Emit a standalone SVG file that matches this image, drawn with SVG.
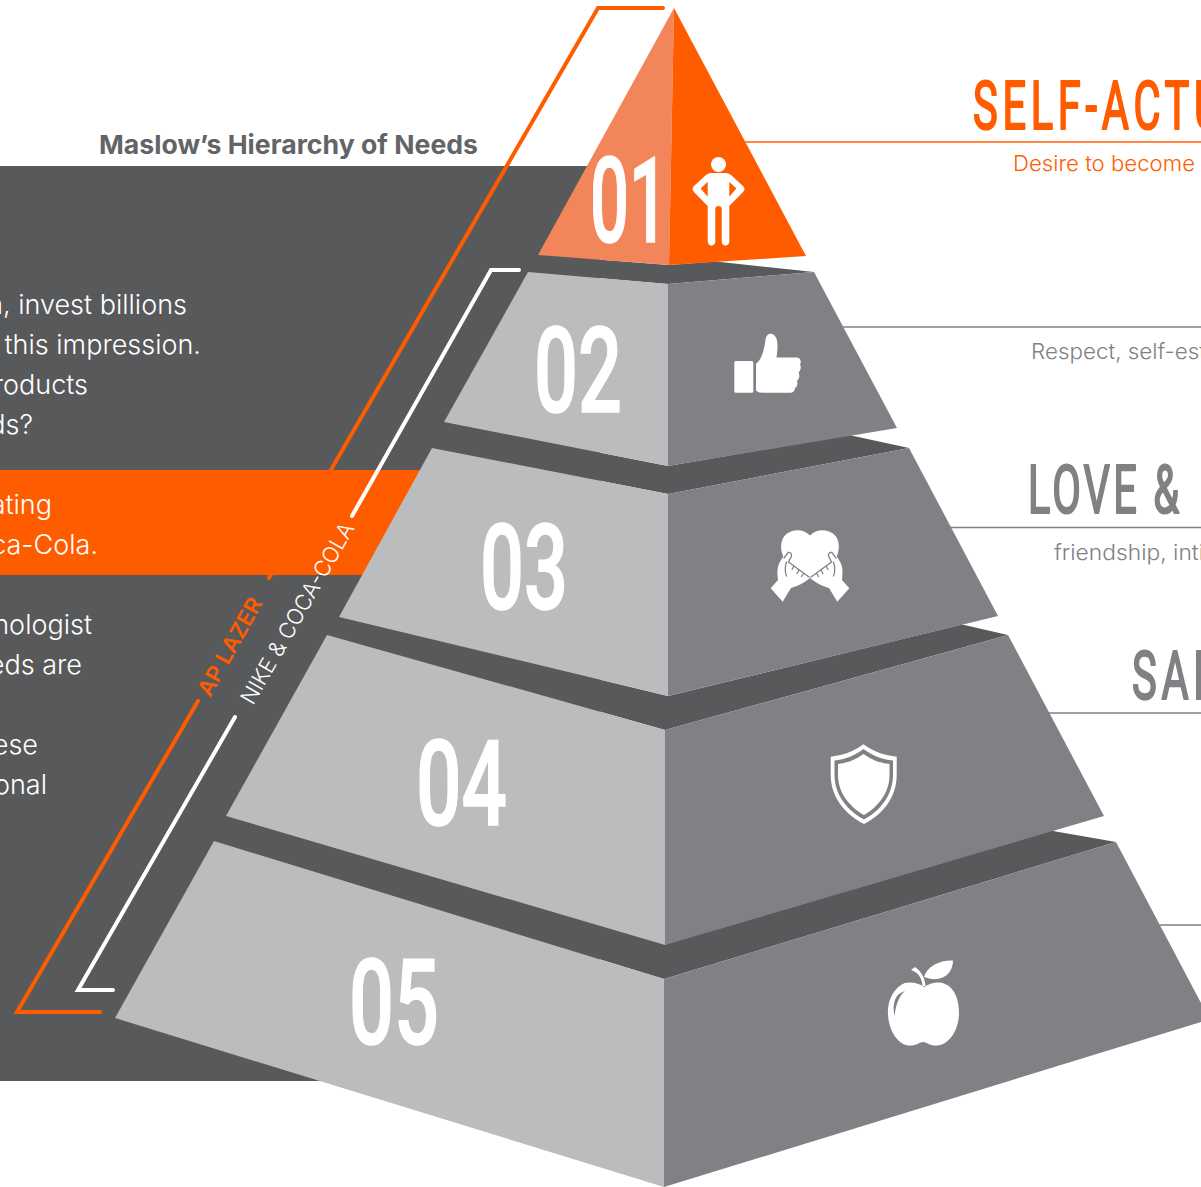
<svg xmlns="http://www.w3.org/2000/svg" width="1201" height="1187" viewBox="0 0 1201 1187">
<style>
.lt{fill:#bbbcbe}.md{fill:#808184}.dk{fill:#58595b}.or{fill:#ff5c00}.wh{fill:#fff}
.num{font-family:"Roboto","Liberation Sans",sans-serif;font-weight:500;font-size:119px;fill:#fff;stroke:#fff;stroke-width:1.500}
.body{font-family:"Inter","Liberation Sans",sans-serif;font-weight:300;font-size:27px;fill:#fff;text-anchor:end}
.sub{font-family:"Inter","Liberation Sans",sans-serif;font-weight:300;font-size:22px}
.hd{font-family:"Roboto","Liberation Sans",sans-serif;font-weight:400;font-size:66px;stroke-width:2.200;stroke-linejoin:round}
.rule{fill:none;stroke-width:1.5}
.ln{fill:none;stroke:#808184;stroke-width:1.300;stroke-linecap:round}
</style>
<defs>
<g id="hand">
<path class="wh" d="M770.700,588.300L778,580C777,572 777,566 781,560L786,552Q790,550 792,553L790,562L810,578C803,584 797,586 791,588L782.700,601.700Z"/>
<path class="ln" d="M784,558L788,552.500Q792,552 791.500,556L788.500,562L809,577M786.500,562Q784,570 786.500,576M794,566l-2,3.500M799,570l-2,3.500M803.500,573.500l-2,3"/>
</g>
</defs>
<rect id="panel" class="dk" x="0" y="166" width="600" height="915"/>
<polygon id="strip" class="or" points="0,470 430,470 370,575 0,575"/>
<text id="title" x="99" y="154" font-family="Inter, Liberation Sans, sans-serif" font-weight="700" font-size="26" fill="#626467" textLength="379" lengthAdjust="spacingAndGlyphs">Maslow’s Hierarchy of Needs</text>
<g id="panel-text">
<text class="body" x="187" y="314">a, invest billions</text>
<text class="body" x="201" y="354">this impression.</text>
<text class="body" x="88" y="394">roducts</text>
<text class="body" x="33" y="434">ds?</text>
<text class="body" x="52" y="514">ating</text>
<text class="body" x="98" y="554">ca-Cola.</text>
<text class="body" x="92" y="634">nologist</text>
<text class="body" x="82" y="674">eds are</text>
<text class="body" x="38" y="754">ese</text>
<text class="body" x="47" y="794">onal</text>
</g>
<g id="connectors" fill="none" stroke-linecap="round" stroke-linejoin="miter">
<path d="M100,1012H17L198,701M269,578L332,468L598,8H663" stroke="#ff5c00" stroke-width="4"/>
<path d="M113,990H78L235,717M352,516L491,270H519" stroke="#fff" stroke-width="4"/>
<path class="rule" stroke="#ff5c00" d="M746,142H1201"/>
<path class="rule" stroke="#808184" d="M843,327H1201M950,527.500H1201M1047,713H1201M1160,925H1201"/>
</g>
<text id="label-ap" transform="translate(210,698) rotate(-60.800)" font-family="Inter, Liberation Sans, sans-serif" font-weight="600" font-size="22" class="or" textLength="109" lengthAdjust="spacingAndGlyphs">AP LAZER</text>
<text id="label-nike" transform="translate(253,706) rotate(-60.200)" font-family="Inter, Liberation Sans, sans-serif" font-weight="300" font-size="22" class="wh" textLength="205" lengthAdjust="spacingAndGlyphs">NIKE &amp; COCA-COLA</text>
<g id="tier-5">
<polygon class="dk" points="226,816 214,841 664,979 1116,842 1053,831"/>
<polygon class="lt" points="214,841 664,979 664,1187 115,1018"/>
<polygon class="md" points="664,979 1116,842 1201,1003 1201,1022 664,1187"/>
<text class="num" x="349" y="1044" textLength="90" lengthAdjust="spacingAndGlyphs">05</text>
<g id="icon-apple" class="wh">
<path d="M924,987C918,982 906,981 901,985C892,991 887,1003 888,1015C889,1031 898,1045 909,1045.500C916,1046 920,1042 923,1042C926,1042 930,1046 937,1045.500C949,1045 959,1030 959,1013C959,1000 955,988 945,984C938,981 930,983 924,987Z"/>
<path d="M922.500,986C922,978 918,972 911,970L915,967C921,971 925,978 925.500,986Z"/>
<path d="M924,977C927,966 940,960 953,960.500C953,970 947,978 937,979C932,979.500 928,978.500 924,977Z"/>
<path d="M894.500,1016C892,1003 895,994 905,991C899,996 896,1004 894.500,1016Z" fill="#808184"/>
</g>
</g>
<g id="tier-4">
<polygon class="dk" points="339,617 327,635 665,730 1008,635 962,624.500 668,696"/>
<polygon class="lt" points="327,635 665,730 665,945 226,816"/>
<polygon class="md" points="665,730 1008,635 1104,816 665,945"/>
<text class="num" x="416" y="825" textLength="91" lengthAdjust="spacingAndGlyphs">04</text>
<g id="icon-shield">
<path class="wh" d="M863.500,744.300C853,752 842,755.500 830.700,756.700V775C830.700,798 846,815 864,824C882,815 896.700,798 896.700,775V756.700C885,755.500 874,752 863.500,744.300Z"/>
<path class="md" d="M863.500,749C854,756 845,759.500 834.500,760.500V775C834.500,795 848,811 864,819.500C880,811 893,795 893,775V760.500C882,759.500 873,756 863.500,749Z"/>
<path class="wh" d="M863.500,754C855,760 847,763 838,764V775C838,793 850,807 864,815C878,807 889.500,793 889.500,775V764C880,763 872,760 863.500,754Z"/>
</g>
</g>
<g id="tier-3">
<polygon class="dk" points="444,422 432,448 668,494 909,448 849,435 668,466"/>
<polygon class="lt" points="432,448 668,494 668,696 339,617"/>
<polygon class="md" points="668,494 909,448 998,616 668,696"/>
<text class="num" x="480" y="609" textLength="88" lengthAdjust="spacingAndGlyphs">03</text>
<g id="icon-hands">
<path class="wh" d="M810,535.500C804,529 794,528.500 787,533.500C779,539.500 780,552 785,560L810,578L835,560C840,552 841,539.500 833,533.500C826,528.500 816,529 810,535.500Z"/>
<use href="#hand"/>
<use href="#hand" transform="translate(1620,0) scale(-1,1)"/>
</g>
</g>
<g id="tier-2">
<polygon class="dk" points="538,255 528,272 668,284 814,272 716,261.500 669,265"/>
<polygon class="lt" points="528,272 668,284 668,466 444,422"/>
<polygon class="md" points="668,284 814,272 897,428 668,466"/>
<text class="num" x="534" y="412" textLength="88" lengthAdjust="spacingAndGlyphs">02</text>
<g id="icon-thumb" class="wh">
<rect x="734.300" y="361" width="19" height="31.700" rx="1.500"/>
<path d="M756,364C762,359 764,350 765.500,340C766,335 769,333 772,334C776,335 777.500,340 777.500,346C777.500,350 777,354 776.500,357.500L797,357.500C801,358 801.500,362 800,364.500C801.500,367 800.500,371 798.500,372.500C800,375 799.500,379 797,380.500C798,384 797,387 795,388C795,391 793,392.700 790,392.700L762,392.700C759,392.700 758,392 756,390.500Z"/>
</g>
</g>
<g id="tier-1">
<polygon fill="#f2865a" points="674,8 538,255 669,265"/>
<polygon class="or" points="674,8 806,256 669,265"/>
<text class="num" x="590" y="242" textLength="78" lengthAdjust="spacingAndGlyphs">01</text>
<g id="icon-person" class="wh">
<circle cx="718.500" cy="164.500" r="7.500"/>
<path fill-rule="evenodd" d="M711,173H726C728,173 729.500,174 731,175L743,186C745,188 745,190 743,192L729.300,206V241.500C729.300,247 721.700,247 721.700,241.500V208.500C721.700,205 715.300,205 715.300,208.500V241.500C715.300,247 707.700,247 707.700,241.500V206L694,192C692,190 692,188 694,186L706,175C707.500,174 709,173 711,173ZM707.700,181.700L700.700,188.500L707.700,196.700ZM729.300,181.700V196.700L736.300,188.500Z"/>
</g>
</g>
<g id="label-self">
<text class="hd or" stroke="#ff5c00" transform="translate(973,128.500) scale(.63,1)" letter-spacing="7.500">SELF-ACTU</text>
<text class="sub" fill="#ff5c00" x="1013" y="171" textLength="182" lengthAdjust="spacingAndGlyphs">Desire to become</text>
</g>
<g id="label-esteem">
<text class="sub" fill="#808184" x="1031" y="359" textLength="175" lengthAdjust="spacingAndGlyphs">Respect, self-est</text>
</g>
<g id="label-love">
<text class="hd" fill="#808184" stroke="#808184" transform="translate(1028,512.500) scale(.63,1)" letter-spacing="5">LOVE &amp;</text>
<text class="sub" fill="#808184" x="1054" y="560" textLength="150" lengthAdjust="spacingAndGlyphs">friendship, inti</text>
</g>
<g id="label-safety">
<text class="hd" fill="#808184" stroke="#808184" transform="translate(1132,698.500) scale(.63,1)" letter-spacing="7.500">SAF</text>
</g>
</svg>
